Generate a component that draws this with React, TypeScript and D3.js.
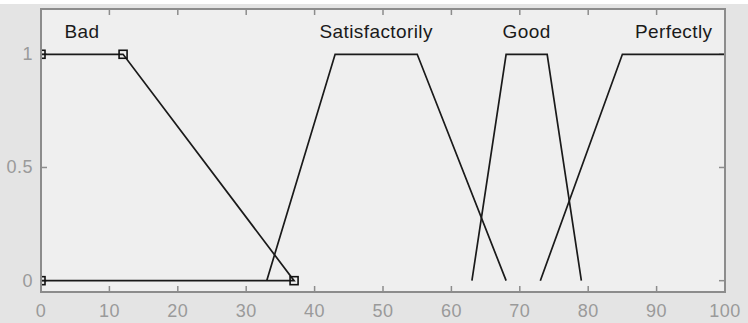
import React from "react";
import * as d3 from "d3";

// membership functions (trapezoid params a, b, c, d)
const mfNames = ["Bad", "Satisfactorily", "Good", "Perfectly"];
const mfParams: number[][] = [
  [0, 0, 12, 37],
  [33, 43, 55, 68],
  [63, 68, 74, 79],
  [73, 85, 100, 100],
];
const selectedMf = 0;

const xTicks = [0, 10, 20, 30, 40, 50, 60, 70, 80, 90, 100];
const yTicks = [0, 0.5, 1];
const yTickLabels = ["0", "0.5", "1"];

const W = 748;
const H = 323;
const margin = { top: 9, right: 23, bottom: 31, left: 41 };

export default function App() {
  const x = d3
    .scaleLinear()
    .domain([0, 100])
    .range([margin.left, W - margin.right]);
  const y = d3
    .scaleLinear()
    .domain([-0.05, 1.2])
    .range([H - margin.bottom, margin.top]);

  const line = d3
    .line<[number, number]>()
    .x((d) => x(d[0]))
    .y((d) => y(d[1]));

  const font = "'Liberation Sans', Arial, sans-serif";
  const x0 = x(0);
  const x1 = x(100);
  const yTop = y(1.2);
  const yBot = y(-0.05);
  const tickLen = 6;

  return (
    <svg
      width={W}
      height={H}
      style={{ position: "absolute", left: 0, top: 0, display: "block" }}
    >
      <rect x={0} y={0} width={W} height={H} fill="#e4e4e4" />
      <rect x={0} y={0} width={W} height={4} fill="#ffffff" />
      <defs>
        <clipPath id="plotClip">
          <rect x={x0} y={yTop} width={x1 - x0} height={yBot - yTop} />
        </clipPath>
      </defs>
      <rect x={x0} y={yTop} width={x1 - x0} height={yBot - yTop} fill="#efefef" />

      {/* ticks */}
      {xTicks.map((t) => (
        <g key={"xt" + t} stroke="#8c8c8c" strokeWidth={1.5}>
          <line x1={x(t)} x2={x(t)} y1={yBot} y2={yBot - tickLen} />
          <line x1={x(t)} x2={x(t)} y1={yTop} y2={yTop + tickLen} />
        </g>
      ))}
      {yTicks.map((t) => (
        <g key={"yt" + t} stroke="#8c8c8c" strokeWidth={1.5}>
          <line x1={x0} x2={x0 + tickLen} y1={y(t)} y2={y(t)} />
          <line x1={x1} x2={x1 - tickLen} y1={y(t)} y2={y(t)} />
        </g>
      ))}

      {/* membership functions */}
      <g clipPath="url(#plotClip)" fill="none" stroke="#1a1a1a" strokeWidth={1.7}>
        {mfParams.map((p, i) => {
          const pts: [number, number][] = [
            [p[0], 0],
            [p[1], 1],
            [p[2], 1],
            [p[3], 0],
          ];
          const path = i === selectedMf ? line([...pts, pts[0]]) : line(pts);
          return <path key={mfNames[i]} d={path || ""} />;
        })}
        {mfParams[selectedMf].map((v, j) => {
          const yy = j === 0 || j === 3 ? 0 : 1;
          return (
            <rect
              key={"sq" + j}
              x={x(v) - 4}
              y={y(yy) - 4}
              width={8}
              height={8}
              fill="none"
              stroke="#111"
              strokeWidth={1.6}
            />
          );
        })}
      </g>

      {/* box */}
      <rect
        x={x0}
        y={yTop}
        width={x1 - x0}
        height={yBot - yTop}
        fill="none"
        stroke="#8c8c8c"
        strokeWidth={2}
      />

      {/* mf labels */}
      {mfParams.map((p, i) => (
        <text
          key={"lbl" + i}
          x={x((p[1] + p[2]) / 2)}
          y={y(1.1)}
          textAnchor="middle"
          dominantBaseline="central"
          fontFamily={font}
          fontSize={19}
          letterSpacing={0.4}
          fill="#1a1a1a"
        >
          {mfNames[i]}
        </text>
      ))}

      {/* tick labels */}
      {xTicks.map((t) => (
        <text
          key={"xl" + t}
          x={x(t)}
          y={317}
          textAnchor="middle"
          fontFamily={font}
          fontSize={18}
          letterSpacing={0.5}
          fill="#9a9a9a"
        >
          {t}
        </text>
      ))}
      {yTicks.map((t, i) => (
        <text
          key={"yl" + t}
          x={33}
          y={y(t)}
          textAnchor="end"
          dominantBaseline="central"
          fontFamily={font}
          fontSize={18}
          letterSpacing={0.5}
          fill="#9a9a9a"
        >
          {yTickLabels[i]}
        </text>
      ))}
    </svg>
  );
}
